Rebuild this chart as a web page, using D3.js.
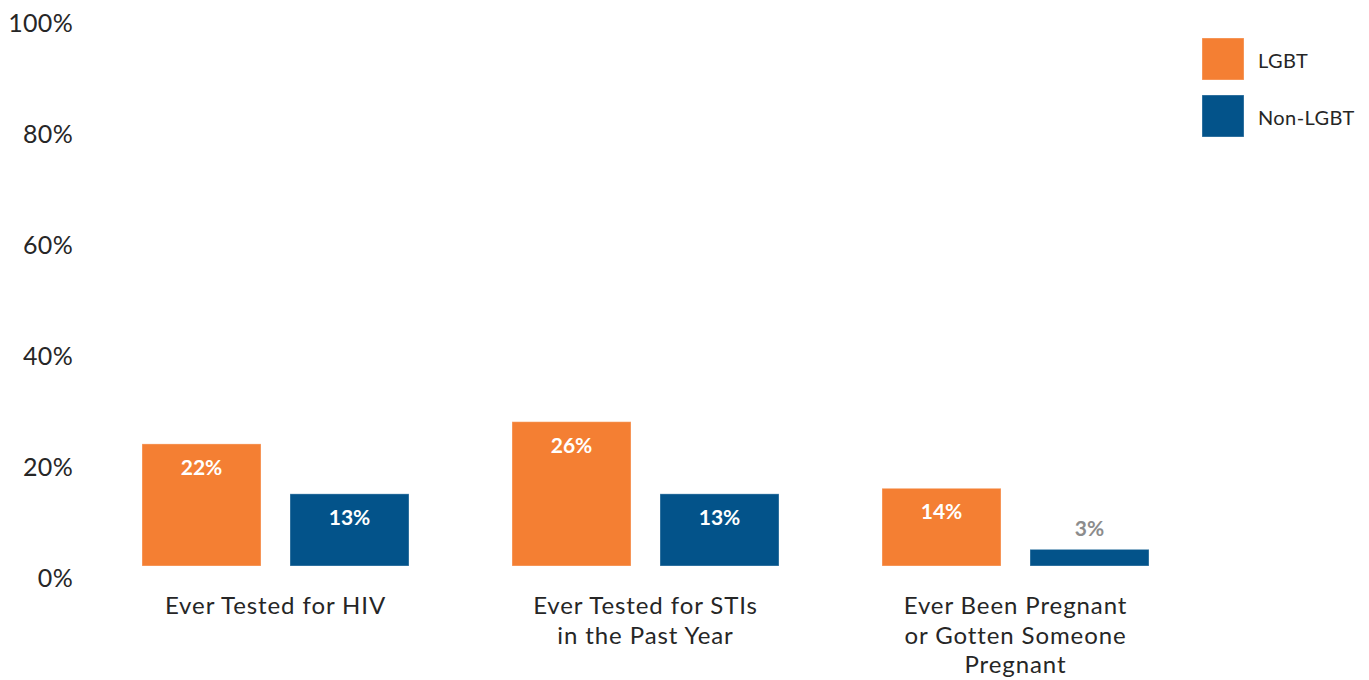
<!DOCTYPE html>
<html>
<head>
<meta charset="utf-8">
<script src="https://cdn.jsdelivr.net/npm/d3@7"></script>
<style>
	body { margin: 0; background: #fff; }
	text { font-family: "Lato", "Noto Sans", sans-serif; }
</style>
</head>
<body>
<svg id="chart"></svg>
<script>
let categories = [
	['Ever Tested for HIV'],
	['Ever Tested for STIs', 'in the Past Year'],
	['Ever Been Pregnant', 'or Gotten Someone', 'Pregnant']
];
let seriesNames = ['LGBT', 'Non-LGBT'];
let lgbt = [22, 26, 14];
let nonLgbt = [13, 13, 3];
let yTicks = [0, 20, 40, 60, 80, 100];

let colors = ['#f47f33', '#03538a'];
let width = 1369, height = 680;

let svg = d3.select('#chart')
	.attr('width', width)
	.attr('height', height);

let catKeys = categories.map((c, i) => i);

let xScale = d3.scaleBand()
	.domain(catKeys)
	.range([90.5, 1200.5]);

let xInner = d3.scaleBand()
	.domain(seriesNames)
	.range([0, xScale.bandwidth()])
	.paddingInner(0.196)
	.paddingOuter(0.348);

let yScale = d3.scaleLinear()
	.domain([0, 100])
	.range([566, 11]);

let colorScale = d3.scaleOrdinal().domain(seriesNames).range(colors);

// y axis, labels only (sit a bit below their gridline position like the original)
let yAxis = d3.axisLeft(yScale)
	.tickValues(yTicks)
	.tickSize(0)
	.tickPadding(0)
	.tickFormat(d => d + '%');

let yAxisGroup = svg.append('g')
	.attr('transform', 'translate(73,12)')
	.call(yAxis);
yAxisGroup.select('.domain').remove();
yAxisGroup.selectAll('text')
	.attr('font-family', 'Lato, "Noto Sans", sans-serif')
	.attr('font-size', 25)
	.attr('letter-spacing', 0.3)
	.attr('fill', '#262626');

// bars
let rows = [];
catKeys.forEach(i => {
	rows.push({ cat: i, series: 'LGBT', value: lgbt[i] });
	rows.push({ cat: i, series: 'Non-LGBT', value: nonLgbt[i] });
});

svg.selectAll('rect.bar')
	.data(rows)
	.enter()
	.append('rect')
	.attr('class', 'bar')
	.attr('x', d => xScale(d.cat) + xInner(d.series))
	.attr('y', d => yScale(d.value))
	.attr('width', xInner.bandwidth())
	.attr('height', d => yScale(0) - yScale(d.value))
	.attr('fill', d => colorScale(d.series))
	.attr('stroke', '#ffffff')
	.attr('stroke-opacity', 0.35)
	.attr('stroke-width', 1);

// value labels: inside the bar, or above it when the bar is too short
svg.selectAll('text.value')
	.data(rows)
	.enter()
	.append('text')
	.attr('class', 'value')
	.attr('x', d => xScale(d.cat) + xInner(d.series) + xInner.bandwidth() / 2)
	.attr('y', d => {
		let h = yScale(0) - yScale(d.value);
		return h > 40 ? yScale(d.value) + 31 : yScale(d.value) - 13;
	})
	.attr('text-anchor', 'middle')
	.attr('font-size', 21)
	.attr('font-weight', 'bold')
	.attr('fill', d => (yScale(0) - yScale(d.value)) > 40 ? '#ffffff' : '#8c8c8c')
	.text(d => d.value + '%');

// category labels
let catLabels = svg.selectAll('text.cat')
	.data(categories)
	.enter()
	.append('text')
	.attr('class', 'cat')
	.attr('text-anchor', 'middle')
	.attr('font-size', 24)
	.attr('letter-spacing', 0.9)
	.attr('fill', '#262626');

catLabels.selectAll('tspan')
	.data((d, i) => d.map(line => ({ line: line, cat: i })))
	.enter()
	.append('tspan')
	.attr('x', d => xScale(d.cat) + xScale.bandwidth() / 2)
	.attr('y', (d, j) => 614 + j * 29.5)
	.text(d => d.line);

// legend
let legend = svg.append('g')
	.attr('transform', 'translate(1202,38)');

let legendItems = legend.selectAll('g')
	.data(seriesNames)
	.enter()
	.append('g')
	.attr('transform', (d, i) => `translate(0,${i * 57})`);

legendItems.append('rect')
	.attr('width', 42)
	.attr('height', 42)
	.attr('fill', d => colorScale(d))
	.attr('stroke', '#ffffff')
	.attr('stroke-opacity', 0.35);

legendItems.append('text')
	.attr('x', 56)
	.attr('y', 30)
	.attr('font-size', 20)
	.attr('letter-spacing', 0.4)
	.attr('fill', '#262626')
	.text(d => d);
</script>
</body>
</html>
